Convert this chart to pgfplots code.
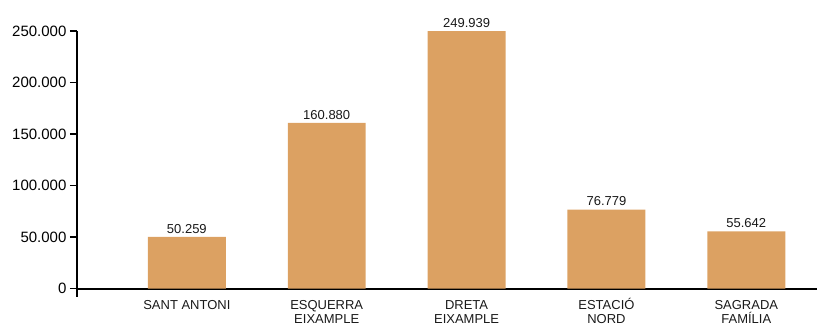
\documentclass[border=0pt]{standalone}
\usepackage{pgfplots}
\pgfplotsset{compat=1.18}
\usepackage{fontspec}
\setmainfont{Liberation Sans}
\definecolor{barc}{RGB}{220,161,98}
\definecolor{txt}{RGB}{25,25,25}
\begin{document}
\begin{tikzpicture}
\begin{axis}[
  scale only axis,
  width=741pt, height=258pt,
  xmin=-0.786, xmax=4.507,
  ymin=0, ymax=250000,
  axis lines=left,
  axis line style={-, line width=1.6pt, black},
  scaled y ticks=false,
  ytick={0,50000,100000,150000,200000,250000},
  yticklabel={\pgfmathprintnumber[fixed,1000 sep={.},assume math mode=true]{\tick}},
  xtick={0,1,2,3,4},
  xticklabels={\vphantom{Ó}SANT ANTONI,{\vphantom{Ó}ESQUERRA\\EIXAMPLE},{\vphantom{Ó}DRETA\\EIXAMPLE},{ESTACIÓ\\NORD},{\vphantom{Ó}SAGRADA\\FAMÍLIA}},
  xtick style={draw=none},
  ytick style={line width=1.5pt, black},
  tick align=outside,
  major tick length=7pt,
  xticklabel style={align=center, font=\fontsize{13}{14}\selectfont, text=txt, yshift=1pt},
  yticklabel style={font=\fontsize{15}{17}\selectfont, text=black},
  ybar, bar width=78pt,
  clip=false,
  nodes near coords,
  nodes near coords={\pgfmathprintnumber[fixed,1000 sep={.},assume math mode=true]{\pgfplotspointmeta}},
  every node near coord/.append style={font=\fontsize{13}{15}\selectfont, text=txt},
]
\addplot[fill=barc, draw=none] coordinates {(0,50259) (1,160880) (2,249939) (3,76779) (4,55642)};
\draw[line width=1.6pt, black] (axis cs:-0.786,0) -- ([yshift=-8pt]axis cs:-0.786,0);
\end{axis}
\path ([xshift=-77pt,yshift=-33pt]current axis.south west) rectangle ([yshift=31pt]current axis.north east);
\end{tikzpicture}
\end{document}
